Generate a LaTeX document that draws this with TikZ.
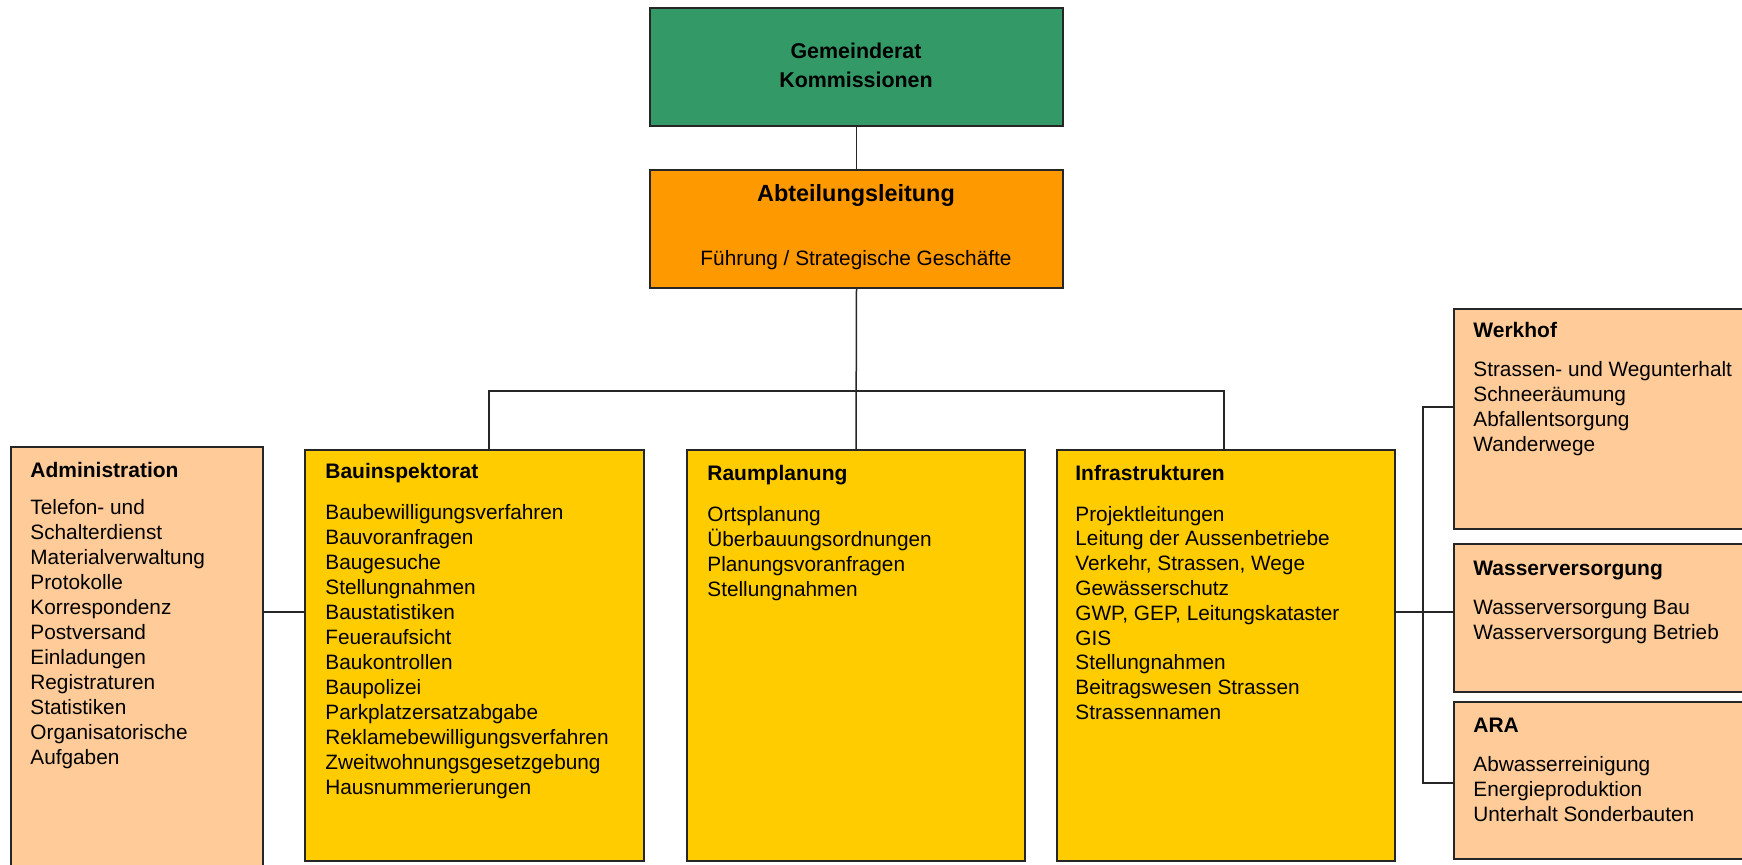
\documentclass[tikz,border=0pt]{standalone}
\usepackage{fontspec}
\setmainfont{Liberation Sans}
\usetikzlibrary{fit}
\definecolor{cgreen}{HTML}{339966}
\definecolor{corange}{HTML}{FF9900}
\definecolor{cyellow}{HTML}{FFCC00}
\definecolor{cpeach}{HTML}{FFCC99}
\definecolor{cline}{HTML}{262626}
\begin{document}
\begin{tikzpicture}[x=0.5pt,y=-0.5pt,
  box/.style={draw=cline, line width=0.8pt, inner sep=0pt},
  conn/.style={draw=cline, line width=0.75pt},
  ttl/.style={anchor=base west, inner sep=0pt, font=\bfseries\fontsize{10.5}{12}\selectfont},
  ctl/.style={anchor=base, inner sep=0pt, font=\bfseries\fontsize{10.7}{12}\selectfont},
  itm/.style={anchor=base west, inner sep=0pt, font=\fontsize{10.4}{12.5}\selectfont}]
\useasboundingbox (0,0) rectangle (1742,864);
\clip (0,0) rectangle (1742,864);

% boxes
\node[box, fill=cgreen, fit={(650,8)(1063,126)}] (gr) {};
\node[box, fill=corange, fit={(650,170)(1063,288)}] (al) {};
\node[box, fill=cpeach, fit={(11,447)(263,880)}] (adm) {};
\node[box, fill=cyellow, fit={(305,450)(644,861)}] (bau) {};
\node[box, fill=cyellow, fit={(687,450)(1025,861)}] (raum) {};
\node[box, fill=cyellow, fit={(1057,450)(1395,861)}] (inf) {};
\node[box, fill=cpeach, fit={(1454,309)(1760,529)}] (werk) {};
\node[box, fill=cpeach, fit={(1454,544)(1760,692)}] (wass) {};
\node[box, fill=cpeach, fit={(1454,702)(1760,859)}] (ara) {};

% helper coordinates
\coordinate (busL) at (489,391);
\coordinate (busR) at (1224,391);
\coordinate (ymid) at (0,612);
\coordinate (rt) at (1423,407);
\coordinate (rm) at (1423,612);
\coordinate (rb) at (1423,783);

% connectors
\draw[conn] (gr.south) -- (al.north);
\draw[conn] (al.south) -- (raum.north);
\draw[conn] (bau.north -| busL) -- (busL) -- (busR) -- (inf.north -| busR);
\draw[conn] (adm.east |- ymid) -- (bau.west |- ymid);
\draw[conn] (inf.east |- ymid) -- (wass.west |- ymid);
\draw[conn] (werk.west |- rt) -- (rt) -- (rb) -- (ara.west |- rb);

% top texts
\node[ctl] (gr-t1) at (856,58) {Gemeinderat};
\node[ctl] (gr-t2) at (856,87) {Kommissionen};
\node[ctl, font=\bfseries\fontsize{11.7}{14}\selectfont] (al-t1) at (856,201) {Abteilungsleitung};
\node[itm, anchor=base] (al-t2) at (856,265) {Führung / Strategische Geschäfte};

% Administration
\node[ttl] (adm-t) at (30,477) {Administration};
\foreach \t [count=\i from 0] in {Telefon- und, Schalterdienst, Materialverwaltung, Protokolle, Korrespondenz, Postversand, Einladungen, Registraturen, Statistiken, Organisatorische, Aufgaben}
  \node[itm] (adm-\i) at (30,514+25*\i) {\t};

% Bauinspektorat
\node[ttl] (bau-t) at (325,478) {Bauinspektorat};
\foreach \t [count=\i from 0] in {Baubewilligungsverfahren, Bauvoranfragen, Baugesuche, Stellungnahmen, Baustatistiken, Feueraufsicht, Baukontrollen, Baupolizei, Parkplatzersatzabgabe, Reklamebewilligungsverfahren, Zweitwohnungsgesetzgebung, Hausnummerierungen}
  \node[itm] (bau-\i) at (325,519+25*\i) {\t};

% Raumplanung
\node[ttl] (raum-t) at (707,480) {Raumplanung};
\foreach \t [count=\i from 0] in {Ortsplanung, Überbauungsordnungen, Planungsvoranfragen, Stellungnahmen}
  \node[itm] (raum-\i) at (707,521+25*\i) {\t};

% Infrastrukturen
\node[ttl] (inf-t) at (1075,480) {Infrastrukturen};
\foreach \t [count=\i from 0] in {Projektleitungen, Leitung der Aussenbetriebe, {Verkehr, Strassen, Wege}, Gewässerschutz, {GWP, GEP, Leitungskataster}, GIS, Stellungnahmen, Beitragswesen Strassen, Strassennamen}
  \node[itm] (inf-\i) at (1075,521+24.8*\i) {\t};

% Werkhof
\node[ttl] (werk-t) at (1473,337) {Werkhof};
\foreach \t [count=\i from 0] in {Strassen- und Wegunterhalt, Schneeräumung, Abfallentsorgung, Wanderwege}
  \node[itm] (werk-\i) at (1473,376+25*\i) {\t};

% Wasserversorgung
\node[ttl] (wass-t) at (1473,575) {Wasserversorgung};
\foreach \t [count=\i from 0] in {Wasserversorgung Bau, Wasserversorgung Betrieb}
  \node[itm] (wass-\i) at (1473,614+25*\i) {\t};

% ARA
\node[ttl] (ara-t) at (1473,732) {ARA};
\foreach \t [count=\i from 0] in {Abwasserreinigung, Energieproduktion, Unterhalt Sonderbauten}
  \node[itm] (ara-\i) at (1473,771+25*\i) {\t};
\end{tikzpicture}
\end{document}
